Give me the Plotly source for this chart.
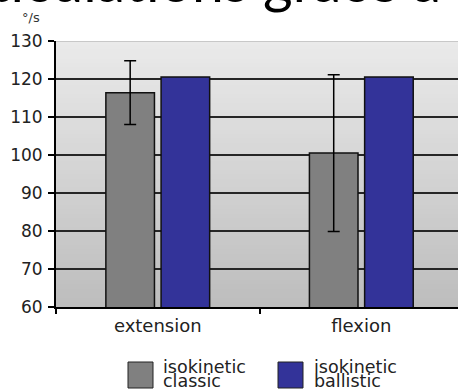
import plotly.graph_objects as go

categories = ["extension", "flexion"]
classic_values = [116.4, 100.5]
classic_errors = [8.4, 20.6]
ballistic_values = [120.5, 120.5]
series_names = ["isokinetic classic", "isokinetic ballistic"]
y_ticks = [60, 70, 80, 90, 100, 110, 120, 130]
unit_label = "°/s"
title_text = "articulations grâce à"

W, H = 458, 391
ML, MR, MT, MB = 56, 0, 41, 84
PW, PH = W - ML - MR, H - MT - MB

def xp(px):
    return (px - ML) / PW

def yp(py):
    return (H - MB - py) / PH

GRAY = "#808080"
BLUE = "#333399"
FONT = "DejaVu Sans"

fig = go.Figure()
fig.add_trace(go.Bar(
    x=categories, y=classic_values, name=series_names[0],
    marker=dict(color=GRAY, line=dict(color="#111111", width=1.5)),
    error_y=dict(type="data", array=classic_errors, visible=True,
                 color="#000000", thickness=1.5, width=6),
))
fig.add_trace(go.Bar(
    x=categories, y=ballistic_values, name=series_names[1],
    marker=dict(color=BLUE, line=dict(color="#111111", width=1.5)),
))

# gradient background of plot area (stacked, bottom to top, to avoid seams)
shapes = []
n = 60
y0, y1 = y_ticks[0], y_ticks[-1]
for i in range(n):
    t = i / (n - 1)
    c = int(round(0xbd + (0xea - 0xbd) * t))
    col = f"rgb({c},{c},{c})"
    shapes.append(dict(type="rect", xref="paper", yref="y", x0=0, x1=1,
                       y0=y0 + (y1 - y0) * i / n, y1=y1,
                       fillcolor=col, line=dict(width=0), layer="below"))
# light top border
shapes.append(dict(type="line", xref="paper", yref="y", x0=0, x1=1, y0=y1, y1=y1,
                   line=dict(color="#c8c8c8", width=2), layer="above"))

# custom legend swatches
sw = [(128, GRAY), (278, BLUE)]
for x0px, col in sw:
    shapes.append(dict(type="rect", xref="paper", yref="paper",
                       x0=xp(x0px), x1=xp(x0px + 25), y0=yp(388), y1=yp(362),
                       fillcolor=col, line=dict(color="#222222", width=1)))

annotations = [
    dict(text=title_text, xref="paper", yref="paper", x=xp(443), y=yp(16),
         xanchor="right", yanchor="bottom", showarrow=False,
         font=dict(family="Lato", size=57, color="#000000")),
    dict(text=unit_label, xref="paper", yref="paper", x=xp(31), y=yp(18),
         xanchor="center", yanchor="middle", showarrow=False,
         font=dict(family=FONT, size=13, color="#333333")),
]
leg_text_x = [161, 312]
for i, name in enumerate(series_names):
    w1, w2 = name.split(" ")
    annotations.append(dict(text=w1, xref="paper", yref="paper", x=xp(leg_text_x[i]), y=yp(367),
                            xanchor="left", yanchor="middle", showarrow=False,
                            font=dict(family=FONT, size=17.5, color="#222222")))
    annotations.append(dict(text=w2, xref="paper", yref="paper", x=xp(leg_text_x[i]), y=yp(381),
                            xanchor="left", yanchor="middle", showarrow=False,
                            font=dict(family=FONT, size=17.5, color="#222222")))

fig.update_layout(
    width=W, height=H,
    margin=dict(l=ML, r=MR, t=MT, b=MB, pad=0, autoexpand=False),
    paper_bgcolor="#ffffff", plot_bgcolor="rgba(0,0,0,0)",
    barmode="group", bargap=0.4575, bargroupgap=0.12,
    showlegend=False,
    shapes=shapes, annotations=annotations,
    xaxis=dict(type="category", range=[-0.5, 1.475], tickson="boundaries",
               automargin=False,
               ticks="outside", ticklen=5, tickwidth=1.5, tickcolor="#000000",
               showline=True, linecolor="#000000", linewidth=2, showgrid=False,
               tickfont=dict(family=FONT, size=18, color="#222222"),
               ticklabelstandoff=1),
    yaxis=dict(range=[y0, y1], tickvals=y_ticks, ticks="outside", ticklen=6,
               automargin=False,
               tickwidth=1.5, tickcolor="#000000",
               showline=True, linecolor="#000000", linewidth=2,
               showgrid=True, gridcolor="#262626", gridwidth=1.8, zeroline=False,
               tickfont=dict(family=FONT, size=17, color="#222222"),
               ticklabelstandoff=2),
)

fig.write_html("out.html", config={"displayModeBar": False},
               post_script="document.body.style.margin='0';document.body.style.overflow='hidden';")
